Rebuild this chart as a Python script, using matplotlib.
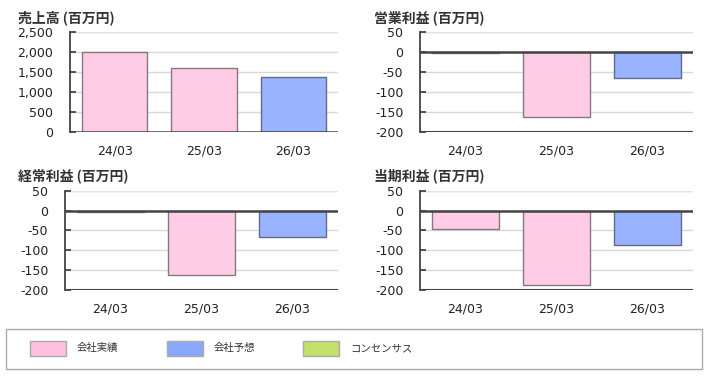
import matplotlib
matplotlib.use("Agg")
import matplotlib.pyplot as plt
from matplotlib.patches import Rectangle
from matplotlib.ticker import FuncFormatter

plt.rcParams['font.family'] = ['DejaVu Sans', 'Noto Sans CJK JP']
plt.rcParams['axes.unicode_minus'] = False

categories = ["24/03", "25/03", "26/03"]
kinds = ["actual", "actual", "forecast"]

sales = [2015, 1605, 1380]
op_income = [-3, -163, -66]
ord_income = [-4, -162, -67]
net_income = [-46, -187, -86]

titles = ["売上高 (百万円)", "営業利益 (百万円)", "経常利益 (百万円)", "当期利益 (百万円)"]
series = [sales, op_income, ord_income, net_income]
yticks_sales = [0, 500, 1000, 1500, 2000, 2500]
yticks_profit = [-200, -150, -100, -50, 0, 50]

legend_labels = ["会社実績", "会社予想", "コンセンサス"]

fill = {"actual": "#FFCCE6", "forecast": "#99B3FF"}
edge = {"actual": "#857780", "forecast": "#5F6B8A"}
legend_fill = ["#FFC0E0", "#88A8FF", "#C4E06A"]

W, H = 708, 376
fig = plt.figure(figsize=(W / 100, H / 100), dpi=100)

# axes boxes in pixels: left, right, top, bottom
boxes = [(70, 338, 32.3, 131.7), (420, 693, 32.3, 131.7),
         (65, 338, 190.7, 290), (420, 693, 190.7, 290)]
title_pos = [(18, 18), (374, 18), (18, 176), (374, 176)]

fmt = FuncFormatter(lambda v, p: f"{int(v):,}")

for i in range(4):
    l, r, t, b = boxes[i]
    ax = fig.add_axes([l / W, 1 - b / H, (r - l) / W, (b - t) / H])
    vals = series[i]
    yt = yticks_sales if i == 0 else yticks_profit
    ax.set_ylim(yt[0], yt[-1])
    ax.set_xlim(-0.5, 2.5)
    ax.set_yticks(yt)
    ax.yaxis.set_major_formatter(fmt)
    for y in yt:
        if y not in (0, yt[0]):
            ax.axhline(y, color="#D8D8D8", lw=1.0, zorder=0)
    ax.axhline(yt[-1], color="#E2E2E2", lw=1.0, zorder=0)
    for j, v in enumerate(vals):
        ax.bar(j, v, width=0.73, color=fill[kinds[j]], edgecolor=edge[kinds[j]],
               linewidth=1.0, zorder=2)
    ax.axhline(0, color="#444444", lw=1.8, zorder=3)
    if yt[0] != 0:
        ax.axhline(yt[0], color="#444444", lw=1.5, zorder=3)
    for s in ["top", "right", "bottom"]:
        ax.spines[s].set_visible(False)
    ax.spines["left"].set_color("#444444")
    ax.spines["left"].set_linewidth(1.3)
    ax.tick_params(axis="y", direction="in", length=4, width=1.3, color="#444444",
                   labelsize=9, labelcolor="#222222", pad=12)
    ax.set_xticks(range(len(categories)))
    ax.set_xticklabels(categories)
    ax.tick_params(axis="x", length=0, labelsize=9, labelcolor="#222222", pad=9)
    ax.set_facecolor("none")
    tx, ty = title_pos[i]
    fig.text(tx / W, 1 - ty / H, titles[i], family=["Noto Sans CJK JP", "DejaVu Sans"],
             fontsize=10, fontweight="bold", color="#333333", va="center", ha="left")

# legend box
fig.patches.append(Rectangle((6 / W, 1 - 369 / H), 696 / W, 40 / H, transform=fig.transFigure,
                             facecolor="white", edgecolor="#AAAAAA", lw=1.0))
px = [30, 167, 303]
for k, lab in enumerate(legend_labels):
    fig.patches.append(Rectangle((px[k] / W, 1 - 356 / H), 36 / W, 15 / H,
                                 transform=fig.transFigure, facecolor=legend_fill[k],
                                 edgecolor="#AAAAAA", lw=1.0))
    fig.text((px[k] + 47) / W, 1 - 348 / H, lab, family=["Noto Sans CJK JP", "DejaVu Sans"],
             fontsize=7.5, color="#333333", va="center", ha="left")

fig.savefig("out.png", dpi=100)
